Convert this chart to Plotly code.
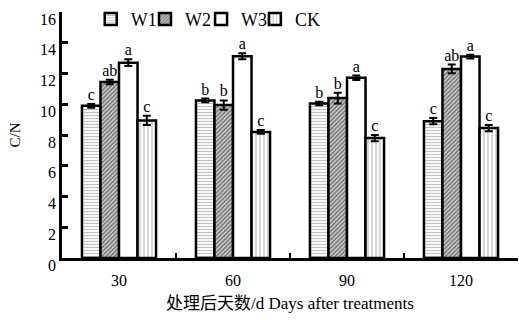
import plotly.graph_objects as go

days = ["30", "60", "90", "120"]
series = ["W1", "W2", "W3", "CK"]
values = {
    "W1": [9.9, 10.25, 10.05, 8.9],
    "W2": [11.45, 9.95, 10.4, 12.3],
    "W3": [12.7, 13.12, 11.72, 13.1],
    "CK": [8.95, 8.2, 7.8, 8.45],
}
errors = {
    "W1": [0.12, 0.12, 0.12, 0.2],
    "W2": [0.15, 0.3, 0.35, 0.28],
    "W3": [0.22, 0.2, 0.15, 0.12],
    "CK": [0.3, 0.12, 0.2, 0.2],
}
letters = {
    "W1": ["c", "b", "b", "c"],
    "W2": ["ab", "b", "b", "ab"],
    "W3": ["a", "a", "a", "a"],
    "CK": ["c", "c", "c", "c"],
}
patterns = {
    "W1": dict(shape="-", size=3, solidity=0.4, fgcolor="#888888", bgcolor="white"),
    "W2": dict(shape="/", size=3, solidity=0.5, fgcolor="#222222", bgcolor="#cccccc"),
    "W3": dict(shape="", bgcolor="white"),
    "CK": dict(shape="|", size=4, solidity=0.35, fgcolor="#888888", bgcolor="white"),
}
legend_ids = ["legend", "legend2", "legend3", "legend4"]
legend_x = [0.063, 0.182, 0.305, 0.423]

FONT = "'Liberation Serif', 'Noto Sans CJK SC', serif"
GAP = 0.35

fig = go.Figure()
for s, lg in zip(series, legend_ids):
    fig.add_trace(go.Bar(
        x=days, y=values[s], name=s, offsetgroup=s, legend=lg,
        marker=dict(color="white", pattern=patterns[s],
                    line=dict(color="black", width=2.5)),
        error_y=dict(type="data", array=errors[s], color="black",
                     thickness=2, width=4),
    ))
for s in series:
    fig.add_trace(go.Scatter(
        x=days, y=[v + e for v, e in zip(values[s], errors[s])],
        mode="text", text=letters[s], textposition="top center",
        textfont=dict(size=16, color="black", family=FONT),
        offsetgroup=s, showlegend=False, hoverinfo="skip", cliponaxis=False,
    ))

legend_style = dict(orientation="h", y=0.97, xanchor="left", yanchor="middle",
                    font=dict(size=18, family=FONT), itemwidth=30,
                    bgcolor="rgba(0,0,0,0)")
fig.update_layout(**{lg: dict(x=lx, **legend_style) for lg, lx in zip(legend_ids, legend_x)})

fig.update_layout(
    width=519, height=320,
    margin=dict(l=62, r=1, t=12, b=62, autoexpand=False),
    paper_bgcolor="white", plot_bgcolor="white",
    barmode="group", bargap=GAP, bargroupgap=0,
    scattermode="group", scattergap=GAP,
    font=dict(family=FONT, size=15, color="black"),
    xaxis=dict(
        type="category", showline=True, linecolor="black", linewidth=2.5,
        ticks="inside", tickson="boundaries", ticklen=5, tickwidth=2,
        tickcolor="black", showgrid=False, automargin=False,
        tickfont=dict(size=16, family=FONT), ticklabelstandoff=6,
        title=dict(text="处理后天数/d Days after treatments", standoff=10,
                   font=dict(size=17, family=FONT)),
    ),
    yaxis=dict(
        range=[0, 16], dtick=2, showline=True, linecolor="black", linewidth=2.5,
        ticks="inside", ticklen=6, tickwidth=2.5, tickcolor="black",
        showgrid=False, zeroline=False, automargin=False,
        tickfont=dict(size=16, family=FONT), ticklabelshift=7,
        title=dict(text="C/N", standoff=16, font=dict(size=15, family=FONT)),
    ),
)

fig.write_html("out.html", config={"displayModeBar": False},
               post_script="document.body.style.margin='0';")
